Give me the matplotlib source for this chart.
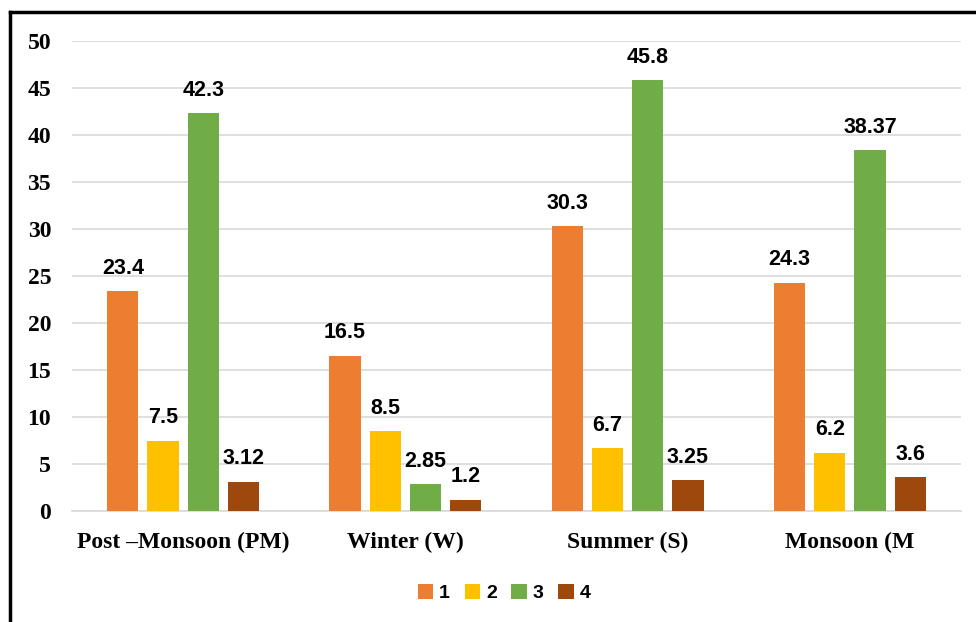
import matplotlib.pyplot as plt
from matplotlib.lines import Line2D
import numpy as np

seasons = ['Post \u2013Monsoon (PM)', 'Winter (W)', 'Summer (S)', 'Monsoon (M']
series_names = ['1', '2', '3', '4']
s1 = [23.4, 16.5, 30.3, 24.3]
s2 = [7.5, 8.5, 6.7, 6.2]
s3 = [42.3, 2.85, 45.8, 38.37]
s4 = [3.12, 1.2, 3.25, 3.6]
series = [s1, s2, s3, s4]
colors = ['#ED7D31', '#FFC000', '#70AD47', '#9E480E']

fig = plt.figure(figsize=(9.76, 6.22), dpi=100)
ax = fig.add_axes([72/976, 1-511/622, (961-72)/976, (511-41)/622])

x = np.arange(len(seasons))
step = 0.181
width = 0.14
for i, vals in enumerate(series):
    pos = x + (i - 1.5) * step
    bars = ax.bar(pos, vals, width, color=colors[i], label=series_names[i], zorder=3)
    for b, v in zip(bars, vals):
        ax.annotate(f'{v:g}', (b.get_x() + b.get_width()/2, v),
                    xytext=(0, 9), textcoords='offset points',
                    ha='center', va='bottom', fontsize=15.5, fontweight='bold',
                    family='Liberation Sans')

ax.set_xlim(-0.5, 3.5)
ax.set_ylim(0, 50)
ax.set_yticks(range(0, 51, 5))
ax.yaxis.grid(True, color='#d9d9d9', linewidth=1.2, zorder=0)
for s in ['top', 'right', 'left']:
    ax.spines[s].set_visible(False)
ax.spines['bottom'].set_color('#d9d9d9')
ax.spines['bottom'].set_linewidth(1.2)
ax.tick_params(length=0)
ax.tick_params(axis='y', pad=15)
ax.tick_params(axis='x', pad=15)
ax.set_xticks(x)
ax.set_xticklabels(seasons, fontsize=17, fontweight='bold', family='Liberation Serif')
for t in ax.get_yticklabels():
    t.set_fontsize(17)
    t.set_fontweight('bold')
    t.set_family('Liberation Serif')

leg = ax.legend(loc='center', bbox_to_anchor=(504/976 - 72/976, (593-511)/-470),
                bbox_transform=fig.transFigure, ncol=4, frameon=False,
                prop={'family': 'Liberation Sans', 'weight': 'bold', 'size': 14},
                handlelength=0.8, handleheight=0.8, handletextpad=0.3, columnspacing=0.75)
leg.set_bbox_to_anchor((504/976, 1-593/622), transform=fig.transFigure)

# outer frame lines
fig.add_artist(Line2D([10/976, 10/976], [0, 1-12/622], color='black', linewidth=2.5))
fig.add_artist(Line2D([10/976, 1], [1-12/622, 1-12/622], color='black', linewidth=2.5))

fig.savefig('out.png', dpi=100)
